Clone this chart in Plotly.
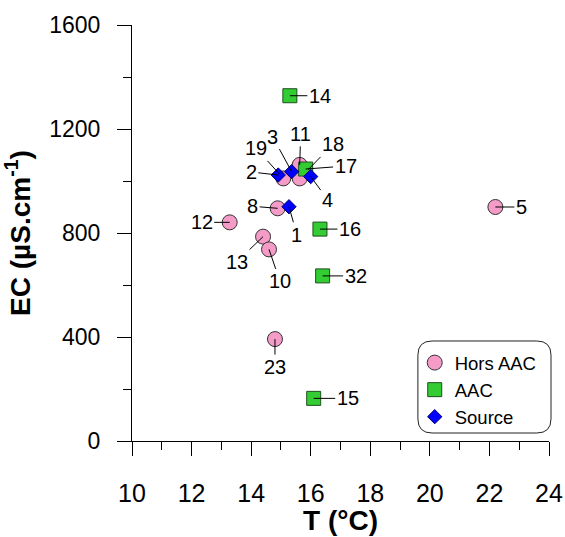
import plotly.graph_objects as go

# ---------------- data ----------------
hors_labels = ["5", "12", "8", "13", "10", "23", "11", "19", "18"]
hors_T = [22.20, 13.28, 14.89, 14.40, 14.60, 14.80, 15.63, 15.08, 15.63]
hors_EC = [900, 841, 895, 786, 737, 392, 1062, 1010, 1010]

aac_labels = ["14", "17", "16", "32", "15"]
aac_T = [15.30, 15.83, 16.31, 16.40, 16.10]
aac_EC = [1328, 1046, 815, 635, 164]

src_labels = ["2", "3", "4", "1"]
src_T = [14.91, 15.36, 16.00, 15.27]
src_EC = [1023, 1036, 1017, 901]

x_ticks = [10, 12, 14, 16, 18, 20, 22, 24]
y_ticks = [0, 400, 800, 1200, 1600]

# label offsets (pixels) for the text of each point label: (dx, dy, standoff)
label_offsets = {
    "5": (26, 0, 0), "12": (-28, 0, 0), "8": (-25, -2, 0), "13": (-26, 25, 0),
    "10": (11, 32, 0), "23": (0, 28, 0), "11": (1, -31, 0), "19": (-27, -30, 6),
    "18": (33, -34, 12), "14": (30, 0, 0), "17": (40, -3, 0), "16": (30, 0, 0),
    "32": (33, 0, 0), "15": (34, 0, 0), "2": (-27, -3, 0), "3": (-19, -35, 0),
    "4": (17, 23, 0), "1": (8, 28, 0),
}

FONT = "Liberation Sans, Arial, sans-serif"

fig = go.Figure()
fig.add_trace(go.Scatter(
    x=hors_T, y=hors_EC, mode="markers", name="Hors AAC",
    marker=dict(symbol="circle", size=15, color="#F59BC8", line=dict(color="#333333", width=1)),
))
fig.add_trace(go.Scatter(
    x=aac_T, y=aac_EC, mode="markers", name="AAC",
    marker=dict(symbol="square", size=14, color="#33CC33", line=dict(color="#1f4f1f", width=1)),
))
fig.add_trace(go.Scatter(
    x=src_T, y=src_EC, mode="markers", name="Source",
    marker=dict(symbol="diamond", size=11, color="#0000FF", line=dict(color="#000066", width=1)),
))

annotations = []
for labs, xs, ys in [(hors_labels, hors_T, hors_EC), (aac_labels, aac_T, aac_EC), (src_labels, src_T, src_EC)]:
    for lab, xv, yv in zip(labs, xs, ys):
        dx, dy, so = label_offsets[lab]
        annotations.append(dict(
            x=xv, y=yv, xref="x", yref="y", text=lab, showarrow=True,
            ax=dx, ay=dy, arrowhead=0, arrowwidth=1, arrowcolor="black",
            standoff=so, font=dict(family=FONT, size=20, color="black"), borderpad=1,
        ))

# x-axis title as a text annotation below the tick labels
annotations.append(dict(
    x=0.5, y=-0.19, xref="paper", yref="paper", text="<b>T (°C)</b>",
    showarrow=False, xanchor="center", yanchor="middle",
    font=dict(family=FONT, size=28, color="black"), borderpad=0,
))

# rounded legend box (paper coords)
x0, x1, y0, y1 = 0.6856, 1.0048, 0.0192, 0.2404
rx, ry = 0.034, 0.034
path = (f"M {x0+rx},{y0} L {x1-rx},{y0} Q {x1},{y0} {x1},{y0+ry} "
        f"L {x1},{y1-ry} Q {x1},{y1} {x1-rx},{y1} L {x0+rx},{y1} "
        f"Q {x0},{y1} {x0},{y1-ry} L {x0},{y0+ry} Q {x0},{y0} {x0+rx},{y0} Z")

fig.update_layout(
    width=565, height=537,
    margin=dict(l=132, r=16, t=25, b=96, autoexpand=False),
    paper_bgcolor="white", plot_bgcolor="white",
    font=dict(family=FONT, color="black"),
    showlegend=True,
    legend=dict(
        x=0.678, y=0.233, xanchor="left", yanchor="top",
        bgcolor="rgba(0,0,0,0)", borderwidth=0,
        font=dict(family=FONT, size=18.5, color="black"),
        tracegroupgap=0,
    ),
    shapes=[dict(type="path", path=path, xref="paper", yref="paper",
                 line=dict(color="#222222", width=1), fillcolor="rgba(0,0,0,0)", layer="below")],
    annotations=annotations,
)

fig.update_xaxes(
    range=[10, 24], tickvals=x_ticks, ticktext=[str(v) for v in x_ticks],
    automargin=False,
    showline=True, linecolor="black", linewidth=1, mirror=False,
    showgrid=False, zeroline=False,
    ticks="outside", ticklen=14, tickwidth=1, tickcolor="black",
    minor=dict(dtick=1, ticks="outside", ticklen=8, tickwidth=1, tickcolor="black", showgrid=False),
    tickfont=dict(family=FONT, size=25, color="black"),
    ticklabelstandoff=16,
)
fig.update_yaxes(
    range=[0, 1600], tickvals=y_ticks, ticktext=[str(v) for v in y_ticks],
    automargin=False,
    showline=True, linecolor="black", linewidth=1, mirror=False,
    showgrid=False, zeroline=False,
    ticks="outside", ticklen=14, tickwidth=1, tickcolor="black",
    minor=dict(dtick=200, ticks="outside", ticklen=8, tickwidth=1, tickcolor="black", showgrid=False),
    tickfont=dict(family=FONT, size=23, color="black"),
    ticklabelstandoff=12,
    title=dict(text="<b>EC (µS.cm<sup>-1</sup>)</b>", font=dict(family=FONT, size=28, color="black"), standoff=14),
)

fig.write_html("out.html")
